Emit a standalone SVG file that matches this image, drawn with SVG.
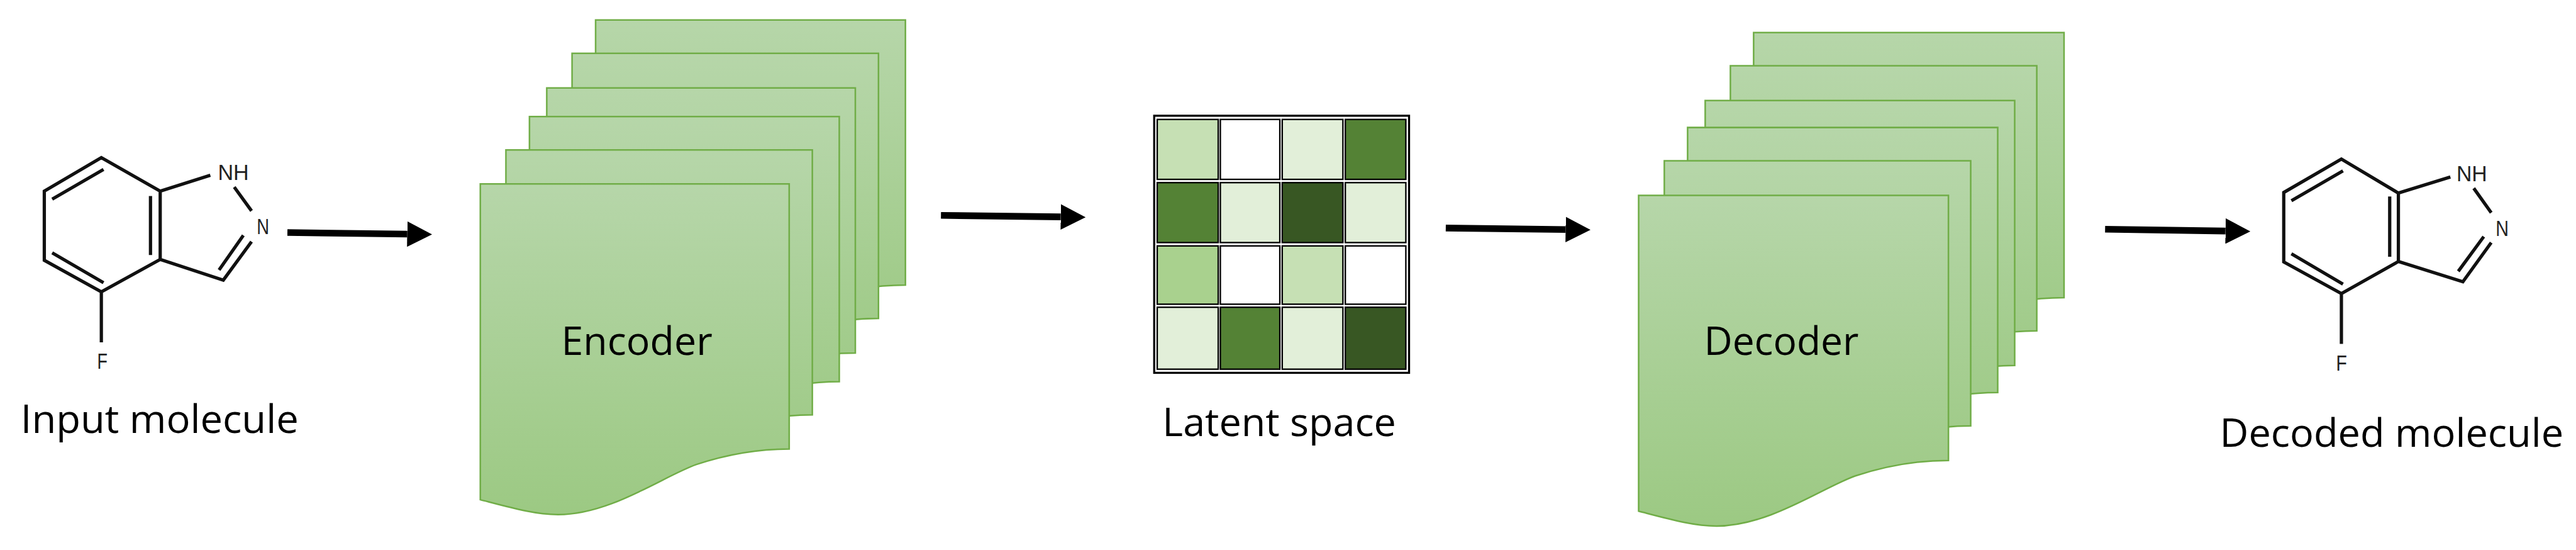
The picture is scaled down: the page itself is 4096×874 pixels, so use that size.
<svg xmlns="http://www.w3.org/2000/svg" xmlns:xlink="http://www.w3.org/1999/xlink" width="4096" height="874" viewBox="0 0 4096 874">
<style>
.bond{fill:none;stroke:#111;stroke-width:5.4;stroke-linecap:butt;stroke-linejoin:miter}
.atom{font-family:"Liberation Sans",Arial,sans-serif;font-size:37px;fill:#222}
.label{font-family:"Open Sans","Liberation Sans",sans-serif;font-size:64px;fill:#000}
.sheet{fill:url(#sheetFill);stroke:#70ad47;stroke-width:2.6}
.cell{stroke:#000;stroke-width:2.4}
.arrow{fill:none;stroke:#000;stroke-width:11;marker-end:url(#head)}
.a{fill:#c6e0b4}.b{fill:#fff}.c{fill:#e2efd9}.d{fill:#548235}.e{fill:#385723}.f{fill:#a9d18e}
</style>
<defs>
<linearGradient id="sheetFill" x1="0" y1="0" x2="0" y2="1"><stop offset="0" stop-color="#b6d6a9"/><stop offset="1" stop-color="#9cc983"/></linearGradient>
<path id="doc" d="M0,0H509V436.5C470,436.5 420,441 356,462C300,482 215,544.5 128,544.5C90,544.5 50,533 0,520Z"/>
<marker id="head" markerUnits="userSpaceOnUse" markerWidth="42" markerHeight="42" refX="0" refY="21" orient="auto"><path d="M0,0L41,21L0,42Z" fill="#000"/></marker>
</defs>
<g transform="scale(0.9649)">
<g id="input-molecule">
<path class="bond" d="M167,259.6L73,314.7V428.7L167,480.6L264,427.3V314.7ZM86,328L170.6,279M86,416.4L170.6,465.5M248,322.8V420M264,314.7L346.6,288.7M386,308L414.5,347.3M264,427.3L368,461.3L414.5,398M361,444.5L401,387.7M167,480.6V563.7"/>
<text class="atom" x="359" y="296.5" textLength="51" lengthAdjust="spacingAndGlyphs">NH</text>
<text class="atom" x="423" y="386" textLength="20.5" lengthAdjust="spacingAndGlyphs">N</text>
<text class="atom" x="160" y="607" textLength="17" lengthAdjust="spacingAndGlyphs">F</text>
<text class="label" x="34" y="712.8" textLength="458" lengthAdjust="spacingAndGlyphs">Input molecule</text>
</g>
<g id="encoder">
<use href="#doc" class="sheet" transform="translate(981.5,33) scale(1.003,1)"/>
<use href="#doc" class="sheet" transform="translate(942.7,87.8) scale(0.992,1)"/>
<use href="#doc" class="sheet" transform="translate(901,144.8) scale(0.999,1)"/>
<use href="#doc" class="sheet" transform="translate(872.5,192) scale(1.003,1)"/>
<use href="#doc" class="sheet" transform="translate(833.7,246.8) scale(0.992,1)"/>
<use href="#doc" class="sheet" transform="translate(791.5,303)"/>
<text class="label" x="925" y="585" textLength="249" lengthAdjust="spacingAndGlyphs">Encoder</text>
</g>
<g id="latent-space">
<rect x="1902" y="190.6" width="420" height="423.4" fill="#fff" stroke="#000" stroke-width="3.4"/>
<rect class="cell a" x="1907" y="196.7" width="100.5" height="98.7"/>
<rect class="cell b" x="2011" y="196.7" width="98" height="98.7"/>
<rect class="cell c" x="2113" y="196.7" width="100" height="98.7"/>
<rect class="cell d" x="2217" y="196.7" width="99.7" height="98.7"/>
<rect class="cell d" x="1907" y="300.8" width="100.5" height="98.7"/>
<rect class="cell c" x="2011" y="300.8" width="98" height="98.7"/>
<rect class="cell e" x="2113" y="300.8" width="100" height="98.7"/>
<rect class="cell c" x="2217" y="300.8" width="99.7" height="98.7"/>
<rect class="cell f" x="1907" y="405" width="100.5" height="96"/>
<rect class="cell b" x="2011" y="405" width="98" height="96"/>
<rect class="cell a" x="2113" y="405" width="100" height="96"/>
<rect class="cell b" x="2217" y="405" width="99.7" height="96"/>
<rect class="cell c" x="1907" y="506" width="100.5" height="102"/>
<rect class="cell d" x="2011" y="506" width="98" height="102"/>
<rect class="cell c" x="2113" y="506" width="100" height="102"/>
<rect class="cell e" x="2217" y="506" width="99.7" height="102"/>
<text class="label" x="1915.6" y="718.3" textLength="385" lengthAdjust="spacingAndGlyphs">Latent space</text>
</g>
<g id="decoder">
<use href="#doc" class="sheet" transform="translate(2889.8,53.6) scale(1.005,1)"/>
<use href="#doc" class="sheet" transform="translate(2851.5,108.4) scale(0.992,1)"/>
<use href="#doc" class="sheet" transform="translate(2810,165.5) scale(1.002,1)"/>
<use href="#doc" class="sheet" transform="translate(2781,210) scale(1.004,1)"/>
<use href="#doc" class="sheet" transform="translate(2742.6,264.8) scale(0.992,1)"/>
<use href="#doc" class="sheet" transform="translate(2700.3,321.8) scale(1.003,1)"/>
<text class="label" x="2808" y="585" textLength="255" lengthAdjust="spacingAndGlyphs">Decoder</text>
</g>
<g id="decoded-molecule">
<path class="bond" d="M3858.4,262L3763.4,317V431.4L3858.4,483.6L3952.3,430.7V318ZM3776,330.7L3861,281.4M3776,418L3861,468M3938,323.6V422.9M3952.3,318L4038,291.4M4076.5,310L4105.3,350.4M3952.3,430.7L4058.6,464L4105.3,399.6M4051,446.8L4093,389.6M3858.4,483.6V566.4"/>
<text class="atom" x="4048" y="298" textLength="50.6" lengthAdjust="spacingAndGlyphs">NH</text>
<text class="atom" x="4112.5" y="388.6" textLength="21.5" lengthAdjust="spacingAndGlyphs">N</text>
<text class="atom" x="3849.6" y="610" textLength="18" lengthAdjust="spacingAndGlyphs">F</text>
<text class="label" x="3658" y="736" textLength="566.4" lengthAdjust="spacingAndGlyphs">Decoded molecule</text>
</g>
<g id="connectors">
<line class="arrow" x1="473.6" y1="383" x2="671" y2="385.5"/>
<line class="arrow" x1="1550.6" y1="354.7" x2="1748" y2="357.2"/>
<line class="arrow" x1="2382.5" y1="375.5" x2="2580" y2="378"/>
<line class="arrow" x1="3469" y1="377.5" x2="3667.4" y2="380.5"/>
</g>
</g>
</svg>
